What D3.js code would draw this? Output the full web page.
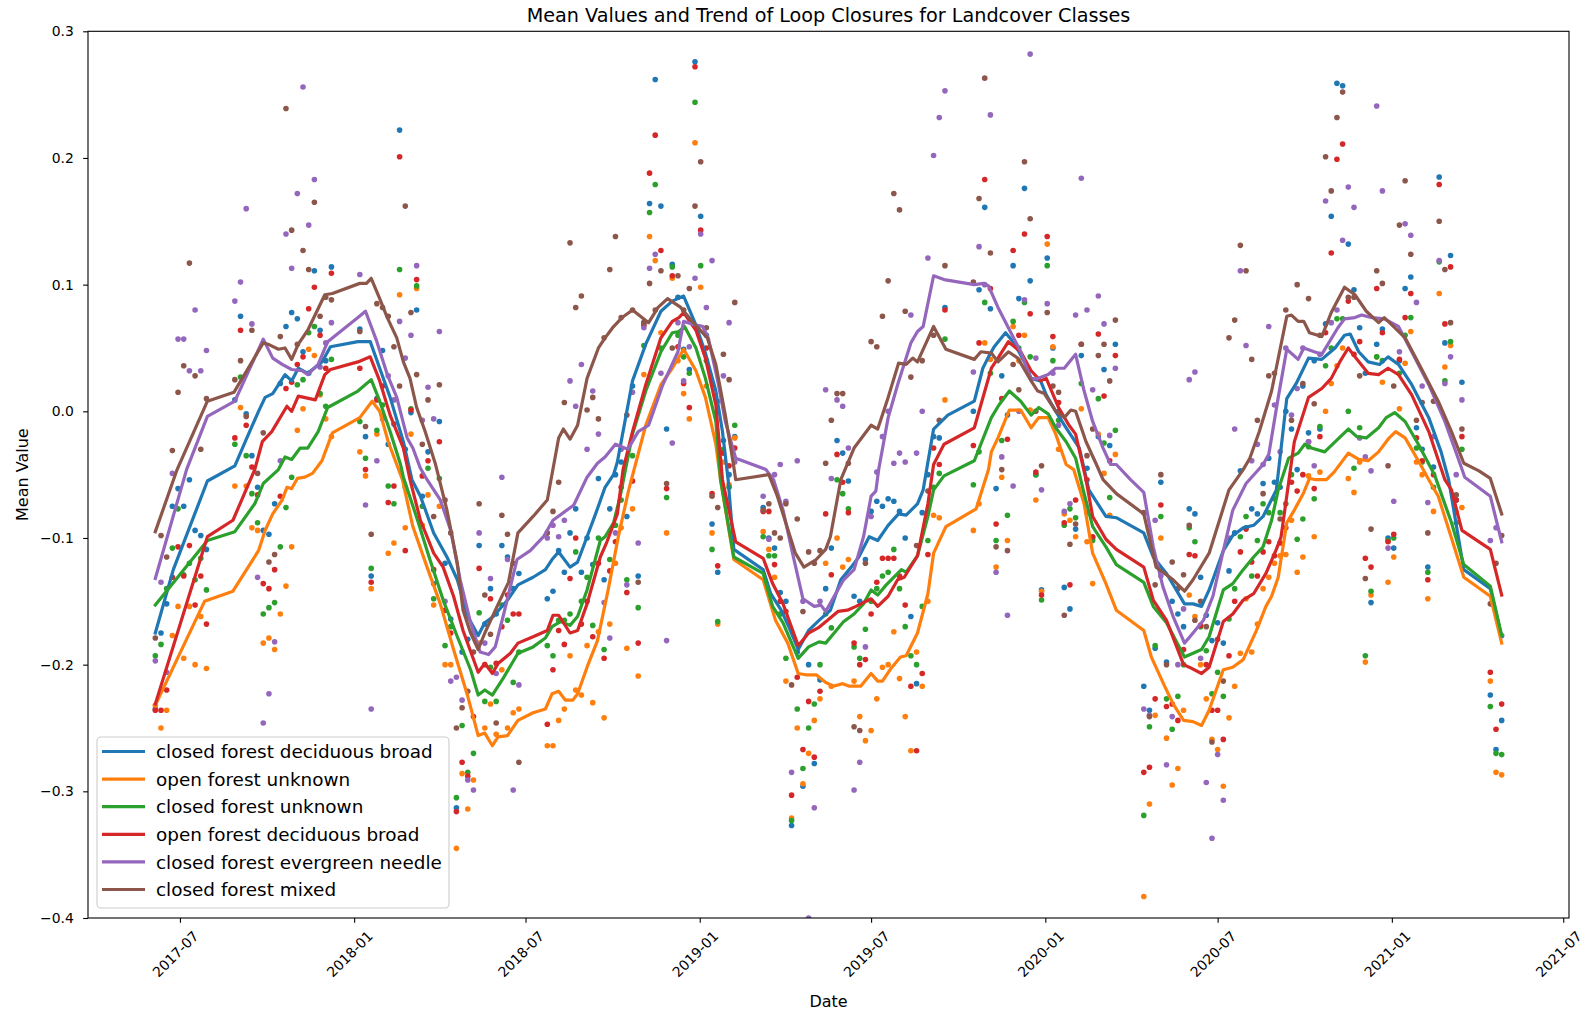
<!DOCTYPE html>
<html>
<head>
<meta charset="utf-8">
<title>Mean Values and Trend of Loop Closures for Landcover Classes</title>
<script src="https://cdn.jsdelivr.net/npm/d3@7/dist/d3.min.js"></script>
<style>
  html, body { margin: 0; padding: 0; background: #fff; }
  svg { display: block; font-family: "DejaVu Sans", sans-serif; }
</style>
</head>
<body>
<svg id="chart" width="1585" height="1011"></svg>
<script>
// ---------------- data ----------------
// Acquisition days are counted from the first pass of the 6-day repeat cycle.
const firstAcquisition = "2017-06-05";

const obsDays = [
  0, 6, 12, 18, 24, 30, 36, 42, 48, 54,
  84, 90, 96, 102, 108, 114, 120, 126, 132, 138, 144, 150, 156, 162, 168, 174, 180, 186,
  216, 222, 228, 234, 240, 246, 252, 258, 264, 270, 276, 282, 288, 294, 300, 306, 312, 318, 324, 330, 336, 342, 348, 354, 360, 366, 372, 378, 384,
  414, 420, 426, 432, 438, 444, 450, 456, 462, 468, 474, 480, 486, 492, 498, 504, 510, 516, 522, 528, 534, 540, 546, 552, 558, 564, 570, 576, 582, 588, 594, 600, 606, 612,
  642, 648, 654, 660, 666, 672, 678, 684, 690, 696, 702, 708, 714, 720, 726, 732, 738, 744, 750, 756, 762, 768, 774, 780, 786, 792, 798, 804, 810, 816, 822, 828, 834,
  864, 870, 876, 882, 888, 894, 900, 906, 912, 918, 924, 930, 936, 942, 948, 954, 960, 966, 972, 978, 984, 990, 996, 1002, 1008, 1014,
  1044, 1050, 1056, 1062, 1068, 1074, 1080, 1086, 1092, 1098, 1104, 1110, 1116, 1122, 1128, 1134, 1140, 1146, 1152, 1158, 1164, 1170, 1176, 1182, 1188, 1194, 1200, 1206, 1212, 1218, 1224, 1230, 1236, 1242, 1248, 1254, 1260, 1266, 1272, 1278, 1284, 1290, 1296, 1302, 1308, 1314, 1320, 1326, 1332, 1338, 1344, 1350, 1356, 1362, 1368, 1374, 1380,
  1410, 1416, 1422
];

// mean loop-closure value per acquisition, one array per landcover class
const closedDecidBroad = [
  -0.235,-0.175,-0.152,-0.075,-0.061,-0.075,-0.054,-0.094,-0.098,-0.109,
  0.009,0.075,-0.002,-0.035,-0.060,-0.094,-0.097,-0.073,0.022,0.067,0.078,0.073,0.047,0.030,0.111,0.064,0.040,0.114,
  0.065,-0.020,-0.130,0.010,0.048,-0.026,-0.010,0.222,-0.030,-0.001,0.080,-0.067,-0.032,-0.136,-0.008,-0.120,-0.164,-0.313,-0.190,-0.180,-0.175,-0.106,-0.168,-0.140,-0.160,-0.106,-0.115,-0.140,-0.128,
  -0.148,-0.142,-0.110,-0.127,-0.096,-0.077,-0.127,-0.100,-0.121,-0.053,-0.133,-0.077,-0.050,-0.040,-0.083,0.020,-0.130,0.070,0.164,0.262,0.162,-0.014,0.116,0.090,0.049,0.033,0.276,0.154,0.060,-0.089,-0.127,-0.023,-0.050,-0.020,
  -0.076,-0.100,-0.108,-0.143,-0.150,-0.327,-0.190,-0.296,-0.200,-0.278,-0.212,-0.140,-0.108,-0.023,-0.033,-0.055,-0.146,-0.150,-0.117,-0.079,-0.071,-0.075,-0.069,-0.071,-0.079,-0.100,-0.162,-0.215,-0.080,-0.050,-0.020,-0.021,0.082,
  0.000,0.096,0.161,0.081,-0.061,0.028,-0.003,0.115,0.089,0.176,0.103,-0.050,-0.141,0.121,0.050,0.000,-0.139,-0.156,-0.093,0.044,-0.045,-0.100,-0.020,0.033,-0.027,0.053,
  -0.217,-0.236,-0.187,-0.056,-0.198,-0.150,-0.160,-0.170,-0.077,-0.081,-0.131,-0.161,-0.181,-0.167,-0.183,-0.126,-0.096,-0.047,-0.092,-0.077,
  -0.081,-0.057,-0.037,-0.056,-0.060,0.000,-0.014,-0.046,0.020,-0.017,0.040,-0.014,0.069,0.154,0.259,0.257,0.132,0.096,0.066,0.030,
  -0.151,0.053,0.065,-0.100,-0.108,0.040,0.097,0.106,-0.013,-0.030,-0.123,-0.044,0.185,0.054,0.123,-0.070,0.023,
  -0.224,-0.267,-0.244
];
const openUnknown = [
  -0.232,-0.250,-0.236,-0.177,-0.154,-0.195,-0.154,-0.200,-0.162,-0.203,
  -0.059,0.003,-0.059,-0.092,-0.094,-0.183,-0.179,-0.188,-0.160,-0.138,-0.107,-0.015,0.002,0.049,0.044,0.013,-0.006,-0.020,
  -0.032,-0.051,-0.140,-0.018,-0.003,-0.112,-0.104,0.092,-0.092,-0.018,0.097,-0.090,-0.066,-0.153,-0.075,-0.200,-0.200,-0.345,-0.286,-0.314,-0.291,-0.183,-0.250,-0.231,-0.255,-0.204,-0.250,-0.238,-0.235,
  -0.264,-0.264,-0.244,-0.235,-0.193,-0.220,-0.224,-0.185,-0.230,-0.174,-0.242,-0.168,-0.120,-0.092,-0.187,-0.077,-0.209,0.029,0.138,0.119,0.062,-0.096,0.105,0.040,0.014,-0.006,0.212,0.098,0.020,-0.096,-0.168,-0.040,-0.058,-0.021,
  -0.095,-0.109,-0.131,-0.160,-0.213,-0.321,-0.250,-0.294,-0.270,-0.244,-0.227,-0.120,-0.217,-0.100,-0.123,-0.117,-0.213,-0.241,-0.260,-0.252,-0.227,-0.202,-0.200,-0.174,-0.211,-0.241,-0.268,-0.190,-0.217,-0.150,-0.082,-0.084,0.009,
  -0.094,-0.073,0.054,0.041,-0.123,-0.052,-0.102,0.067,0.040,0.060,0.001,-0.070,-0.142,0.132,0.051,-0.030,-0.081,-0.086,-0.099,0.002,-0.103,-0.136,-0.018,-0.049,-0.082,-0.034,
  -0.383,-0.310,-0.240,-0.100,-0.258,-0.295,-0.282,-0.236,-0.145,-0.162,-0.200,-0.227,-0.259,-0.267,-0.296,-0.242,-0.217,-0.191,-0.148,-0.190,
  -0.168,-0.140,-0.131,-0.120,-0.114,-0.113,-0.086,-0.127,-0.115,-0.051,-0.099,-0.048,0.000,0.022,0.036,0.050,-0.053,-0.064,-0.040,-0.198,
  -0.145,0.043,0.023,-0.135,-0.115,0.002,0.038,0.063,-0.040,-0.050,-0.148,-0.079,0.093,0.035,0.052,-0.080,-0.076,
  -0.213,-0.285,-0.287
];
const closedUnknown = [
  -0.193,-0.184,-0.140,-0.108,-0.077,-0.129,-0.120,-0.133,-0.116,-0.141,
  -0.026,0.027,-0.035,-0.065,-0.088,-0.160,-0.155,-0.151,-0.107,-0.076,-0.052,0.021,0.025,0.062,0.067,0.014,0.004,0.041,
  -0.008,-0.037,-0.124,-0.015,0.005,-0.059,-0.073,0.112,-0.060,0.002,0.099,-0.075,-0.045,-0.148,-0.053,-0.185,-0.170,-0.305,-0.248,-0.285,-0.270,-0.159,-0.229,-0.202,-0.229,-0.153,-0.165,-0.214,-0.190,
  -0.185,-0.193,-0.165,-0.165,-0.160,-0.111,-0.150,-0.131,-0.169,-0.100,-0.188,-0.117,-0.090,-0.070,-0.133,-0.035,-0.155,0.052,0.157,0.179,0.050,-0.068,0.114,0.060,0.043,0.030,0.244,0.115,0.040,-0.109,-0.166,-0.030,-0.060,-0.011,
  -0.099,-0.114,-0.114,-0.160,-0.195,-0.323,-0.235,-0.282,-0.250,-0.231,-0.200,-0.160,-0.171,-0.054,-0.065,-0.077,-0.186,-0.195,-0.172,-0.150,-0.140,-0.130,-0.127,-0.109,-0.140,-0.170,-0.193,-0.200,-0.154,-0.102,-0.060,-0.049,0.057,
  -0.058,-0.032,0.086,0.030,-0.102,-0.023,-0.082,0.071,0.050,0.086,0.043,-0.050,-0.149,0.115,0.040,-0.007,-0.090,-0.077,-0.084,0.022,-0.080,-0.102,0.010,-0.025,-0.068,-0.015,
  -0.319,-0.249,-0.185,-0.083,-0.227,-0.251,-0.225,-0.200,-0.092,-0.103,-0.170,-0.189,-0.223,-0.206,-0.225,-0.164,-0.140,-0.099,-0.083,-0.130,
  -0.102,-0.073,-0.080,-0.069,-0.080,-0.073,-0.050,-0.101,-0.085,-0.028,-0.069,-0.012,0.036,0.050,0.073,0.073,0.000,-0.045,-0.013,-0.193,
  -0.142,0.043,0.040,-0.102,-0.100,0.030,0.060,0.074,-0.029,-0.040,-0.127,-0.060,0.118,0.024,0.055,-0.088,-0.030,
  -0.233,-0.270,-0.271
];
const openDecidBroad = [
  -0.236,-0.236,-0.220,-0.131,-0.107,-0.130,-0.106,-0.153,-0.130,-0.168,
  -0.021,0.064,-0.011,-0.044,-0.066,-0.136,-0.140,-0.125,-0.067,0.018,0.023,0.037,0.043,0.081,0.098,0.060,0.034,0.109,
  0.034,-0.046,-0.135,0.009,0.020,-0.072,-0.059,0.201,-0.110,0.001,0.104,-0.051,-0.039,-0.125,-0.024,-0.157,-0.175,-0.316,-0.277,-0.288,-0.241,-0.124,-0.200,-0.148,-0.199,-0.170,-0.145,-0.160,-0.160,
  -0.247,-0.204,-0.173,-0.184,-0.132,-0.100,-0.168,-0.150,-0.178,-0.120,-0.195,-0.126,-0.103,-0.060,-0.143,-0.055,-0.183,0.068,0.188,0.218,0.127,-0.061,0.107,0.051,0.022,0.003,0.272,0.143,0.050,-0.065,-0.122,-0.033,-0.043,-0.029,
  -0.079,-0.079,-0.121,-0.150,-0.158,-0.303,-0.210,-0.267,-0.229,-0.273,-0.221,-0.081,-0.129,-0.034,-0.056,-0.080,-0.183,-0.200,-0.196,-0.160,-0.135,-0.116,-0.116,-0.116,-0.130,-0.153,-0.217,-0.268,-0.207,-0.113,-0.029,-0.042,0.080,
  -0.027,0.054,0.183,0.097,-0.089,0.010,-0.022,0.127,0.060,0.140,0.077,-0.048,-0.145,0.138,0.059,0.007,-0.088,-0.137,-0.070,0.053,-0.054,-0.099,0.061,0.012,-0.039,0.044,
  -0.285,-0.281,-0.227,-0.074,-0.233,-0.231,-0.244,-0.188,-0.113,-0.114,-0.169,-0.200,-0.236,-0.236,-0.259,-0.193,-0.150,-0.111,-0.093,-0.119,
  -0.130,-0.111,-0.103,-0.114,-0.104,-0.092,-0.056,-0.063,-0.050,-0.024,-0.061,-0.020,0.062,0.125,0.199,0.211,0.087,0.045,0.055,-0.116,
  -0.123,0.097,0.062,-0.103,-0.097,0.041,0.074,0.093,-0.021,-0.039,-0.133,-0.050,0.179,0.069,0.114,-0.070,-0.020,
  -0.206,-0.251,-0.231
];
const closedEvergreenNeedle = [
  -0.197,-0.135,-0.206,-0.049,0.057,0.057,0.032,0.080,0.032,0.048,
  0.087,0.102,0.160,0.069,-0.131,-0.246,-0.223,-0.182,-0.039,0.140,0.113,0.172,0.256,0.147,0.183,0.035,0.054,0.070,
  0.108,-0.074,-0.235,-0.039,-0.006,0.028,0.009,0.071,0.042,0.060,0.115,-0.007,0.019,-0.006,0.063,-0.150,-0.213,-0.210,-0.228,-0.291,-0.299,-0.096,-0.183,-0.132,-0.207,-0.052,-0.117,-0.299,-0.216,
  -0.100,-0.090,-0.099,-0.086,0.024,0.004,0.037,-0.030,0.016,-0.018,-0.151,-0.179,-0.096,-0.030,-0.137,0.015,-0.104,0.066,0.113,0.124,0.030,-0.181,-0.025,0.070,0.024,0.051,0.105,0.140,0.082,0.119,0.008,0.028,0.070,-0.040,
  -0.067,-0.101,-0.050,-0.042,-0.071,-0.285,-0.039,-0.150,-0.400,-0.313,-0.150,0.017,-0.053,0.009,0.004,-0.029,-0.299,-0.277,-0.186,-0.083,-0.048,-0.020,0.000,-0.041,-0.033,-0.040,0.076,-0.033,0.000,0.121,0.202,0.232,0.253,
  0.031,0.130,0.100,0.234,-0.127,-0.036,-0.161,-0.059,0.000,0.088,0.282,0.042,-0.062,0.085,0.030,-0.011,-0.079,-0.073,0.076,0.184,0.080,0.017,0.091,0.069,-0.019,0.034,
  -0.235,-0.240,-0.086,-0.130,-0.279,-0.241,-0.200,-0.156,0.025,0.031,-0.195,-0.293,-0.337,-0.271,-0.307,-0.100,-0.014,0.111,0.052,-0.039,
  -0.026,-0.042,0.067,0.005,-0.032,0.050,-0.003,0.018,0.050,-0.024,-0.043,0.045,0.166,0.070,0.080,0.135,0.177,0.161,-0.021,-0.036,
  -0.047,0.241,0.174,-0.108,-0.071,0.047,0.148,0.139,0.086,0.020,-0.072,-0.020,0.119,0.022,0.043,-0.050,0.009,
  -0.102,-0.092,-0.177
];
const closedMixed = [
  -0.179,-0.098,-0.115,-0.031,0.015,0.036,0.117,0.028,-0.030,0.010,
  0.025,0.040,-0.004,0.064,-0.049,-0.017,-0.119,-0.113,0.059,0.239,0.143,0.053,0.127,0.112,0.165,0.075,0.090,0.088,
  0.063,-0.012,-0.097,0.085,0.082,0.075,0.051,0.020,0.162,0.078,0.029,-0.026,0.009,-0.083,0.021,-0.070,-0.096,-0.250,-0.234,-0.221,-0.190,-0.073,-0.145,-0.176,-0.246,-0.082,-0.097,-0.120,-0.277,
  -0.096,-0.079,-0.056,0.007,0.133,0.082,0.091,0.001,0.011,-0.006,0.058,0.112,0.138,0.074,-0.003,0.080,-0.135,0.070,0.101,0.080,0.111,-0.057,0.050,0.107,0.080,0.097,0.162,0.197,0.066,-0.067,-0.076,0.045,0.025,0.086,
  -0.078,-0.073,-0.096,-0.100,-0.073,-0.216,-0.085,-0.158,-0.111,-0.120,-0.110,-0.041,-0.007,0.014,0.014,-0.041,-0.249,-0.252,-0.120,0.055,0.051,0.075,0.103,0.172,0.159,0.079,0.027,-0.106,0.040,-0.063,0.060,-0.007,0.115,
  0.102,0.168,0.263,0.125,-0.107,-0.046,-0.110,0.037,0.017,0.197,0.152,0.000,-0.043,0.078,0.020,0.015,-0.161,-0.105,-0.089,0.053,-0.035,-0.014,0.044,0.053,0.024,0.072,
  -0.080,-0.241,-0.137,-0.050,-0.200,-0.119,-0.140,-0.129,-0.090,-0.165,-0.150,-0.170,-0.261,-0.180,-0.213,0.058,0.072,0.131,0.111,0.041,
  -0.007,-0.065,0.028,0.030,-0.085,0.080,-0.007,0.100,0.022,0.089,0.006,0.060,0.201,0.174,0.232,0.252,0.090,0.090,0.028,-0.132,
  -0.093,0.111,0.101,-0.043,0.020,0.147,0.182,0.124,-0.007,0.007,-0.096,0.008,0.150,0.112,0.070,-0.066,-0.014,
  -0.152,-0.120,-0.098
];

// smoothed trend per class: [acquisition day, value]
const trendClosedDecidBroad = [
  [0,-0.175],[19,-0.125],[55,-0.055],[84,-0.043],[95,-0.024],[109,0.000],[116,0.011],[124,0.014],[137,0.029],[144,0.024],[151,0.034],[161,0.030],[176,0.039],[185,0.051],[214,0.055],[227,0.055],[237,0.034],[248,0.011],[262,-0.024],[271,-0.054],[280,-0.067],[294,-0.096],[308,-0.115],[319,-0.133],[330,-0.162],[341,-0.177],[348,-0.167],[357,-0.162],[372,-0.149],[383,-0.137],[399,-0.131],[412,-0.125],[419,-0.117],[426,-0.111],[438,-0.123],[446,-0.119],[456,-0.099],[465,-0.081],[475,-0.060],[484,-0.050],[488,-0.040],[504,0.024],[518,0.053],[534,0.079],[546,0.087],[558,0.091],[571,0.068],[581,0.046],[592,0.016],[599,-0.016],[605,-0.054],[611,-0.109],[642,-0.125],[650,-0.144],[661,-0.157],[669,-0.170],[679,-0.188],[690,-0.173],[701,-0.165],[713,-0.157],[724,-0.133],[735,-0.123],[743,-0.115],[754,-0.099],[763,-0.102],[774,-0.090],[785,-0.081],[793,-0.082],[805,-0.073],[811,-0.062],[822,-0.014],[837,-0.003],[865,0.008],[874,0.034],[880,0.043],[886,0.051],[898,0.062],[907,0.054],[918,0.039],[925,0.026],[935,0.024],[941,0.013],[951,0.000],[962,-0.013],[976,-0.029],[986,-0.062],[1004,-0.083],[1015,-0.084],[1044,-0.096],[1054,-0.115],[1068,-0.128],[1087,-0.152],[1096,-0.152],[1105,-0.154],[1113,-0.141],[1128,-0.110],[1138,-0.098],[1149,-0.092],[1160,-0.090],[1170,-0.083],[1184,-0.062],[1195,0.010],[1205,0.022],[1218,0.042],[1232,0.041],[1246,0.050],[1256,0.060],[1262,0.061],[1271,0.047],[1281,0.039],[1293,0.037],[1302,0.043],[1313,0.037],[1327,0.021],[1345,-0.005],[1358,-0.032],[1366,-0.054],[1382,-0.125],[1410,-0.140],[1422,-0.178]
];
const trendOpenUnknown = [
  [0,-0.232],[52,-0.150],[82,-0.142],[109,-0.110],[116,-0.094],[124,-0.081],[134,-0.070],[139,-0.060],[144,-0.061],[150,-0.053],[158,-0.052],[166,-0.049],[176,-0.039],[187,-0.017],[216,-0.005],[229,0.008],[237,0.000],[246,-0.024],[255,-0.042],[261,-0.054],[272,-0.091],[287,-0.123],[301,-0.152],[315,-0.188],[330,-0.225],[341,-0.256],[348,-0.254],[356,-0.264],[362,-0.257],[372,-0.256],[383,-0.244],[399,-0.238],[412,-0.235],[419,-0.223],[426,-0.221],[433,-0.228],[441,-0.228],[446,-0.223],[456,-0.202],[467,-0.181],[478,-0.142],[489,-0.099],[500,-0.062],[518,-0.011],[534,0.021],[546,0.034],[558,0.049],[571,0.032],[581,0.011],[592,-0.026],[597,-0.054],[611,-0.117],[642,-0.133],[655,-0.165],[668,-0.183],[679,-0.207],[687,-0.208],[698,-0.208],[708,-0.214],[716,-0.217],[726,-0.215],[733,-0.217],[745,-0.217],[756,-0.207],[763,-0.213],[768,-0.213],[777,-0.203],[787,-0.194],[793,-0.193],[805,-0.175],[816,-0.144],[822,-0.112],[835,-0.091],[867,-0.077],[880,-0.046],[883,-0.032],[890,-0.021],[902,0.001],[914,0.001],[925,-0.013],[933,-0.005],[943,-0.005],[951,-0.018],[962,-0.042],[970,-0.046],[981,-0.073],[990,-0.112],[1004,-0.136],[1015,-0.157],[1044,-0.173],[1052,-0.194],[1066,-0.217],[1075,-0.231],[1086,-0.244],[1096,-0.245],[1105,-0.248],[1113,-0.236],[1128,-0.204],[1138,-0.202],[1149,-0.196],[1163,-0.173],[1173,-0.154],[1179,-0.146],[1186,-0.131],[1195,-0.088],[1203,-0.078],[1213,-0.064],[1219,-0.053],[1226,-0.054],[1237,-0.054],[1245,-0.048],[1260,-0.033],[1271,-0.038],[1281,-0.039],[1292,-0.032],[1302,-0.022],[1310,-0.016],[1320,-0.021],[1334,-0.039],[1345,-0.054],[1355,-0.067],[1382,-0.131],[1410,-0.146],[1422,-0.183]
];
const trendClosedUnknown = [
  [0,-0.153],[55,-0.102],[84,-0.095],[105,-0.073],[114,-0.057],[130,-0.046],[137,-0.036],[144,-0.038],[153,-0.029],[161,-0.029],[172,-0.016],[182,0.003],[187,0.005],[214,0.016],[228,0.025],[237,0.008],[248,-0.016],[259,-0.042],[262,-0.052],[277,-0.086],[290,-0.117],[304,-0.149],[319,-0.178],[333,-0.204],[341,-0.224],[348,-0.220],[356,-0.224],[368,-0.210],[383,-0.191],[399,-0.186],[412,-0.179],[419,-0.170],[428,-0.166],[438,-0.169],[446,-0.162],[456,-0.141],[470,-0.102],[475,-0.099],[484,-0.088],[491,-0.067],[504,-0.018],[518,0.016],[534,0.047],[546,0.062],[553,0.063],[559,0.067],[571,0.050],[581,0.026],[592,-0.008],[597,-0.054],[611,-0.115],[642,-0.128],[652,-0.154],[663,-0.167],[679,-0.195],[690,-0.186],[701,-0.182],[708,-0.183],[717,-0.175],[727,-0.166],[738,-0.160],[748,-0.152],[756,-0.141],[763,-0.145],[772,-0.137],[788,-0.125],[793,-0.127],[805,-0.114],[816,-0.083],[822,-0.062],[833,-0.051],[865,-0.039],[883,-0.005],[891,0.005],[902,0.016],[914,0.008],[925,-0.003],[933,0.003],[943,-0.002],[951,-0.013],[962,-0.024],[972,-0.037],[980,-0.062],[990,-0.091],[1004,-0.107],[1015,-0.121],[1044,-0.135],[1054,-0.154],[1068,-0.167],[1087,-0.194],[1096,-0.191],[1105,-0.188],[1113,-0.178],[1128,-0.141],[1138,-0.136],[1149,-0.125],[1160,-0.115],[1170,-0.107],[1179,-0.086],[1186,-0.062],[1197,-0.037],[1207,-0.033],[1214,-0.026],[1221,-0.029],[1235,-0.032],[1249,-0.022],[1260,-0.014],[1269,-0.020],[1279,-0.021],[1292,-0.013],[1300,-0.005],[1309,-0.001],[1320,-0.008],[1334,-0.026],[1351,-0.050],[1369,-0.088],[1382,-0.121],[1410,-0.138],[1422,-0.177]
];
const trendOpenDecidBroad = [
  [0,-0.231],[55,-0.099],[82,-0.086],[105,-0.046],[113,-0.024],[123,-0.016],[139,0.004],[144,0.000],[151,0.012],[169,0.009],[179,0.029],[185,0.033],[214,0.039],[227,0.043],[237,0.024],[248,-0.003],[262,-0.029],[269,-0.054],[280,-0.086],[294,-0.112],[304,-0.123],[315,-0.146],[325,-0.173],[341,-0.206],[348,-0.199],[356,-0.207],[362,-0.199],[375,-0.191],[383,-0.183],[399,-0.178],[414,-0.173],[420,-0.161],[426,-0.161],[438,-0.175],[446,-0.173],[456,-0.152],[470,-0.115],[477,-0.103],[488,-0.081],[494,-0.046],[504,-0.016],[518,0.021],[534,0.058],[546,0.071],[553,0.074],[558,0.078],[571,0.064],[581,0.042],[592,0.005],[599,-0.054],[613,-0.103],[642,-0.116],[652,-0.136],[663,-0.152],[679,-0.185],[690,-0.175],[700,-0.171],[710,-0.165],[721,-0.158],[731,-0.157],[740,-0.154],[756,-0.148],[763,-0.154],[774,-0.146],[784,-0.133],[791,-0.131],[805,-0.114],[816,-0.073],[822,-0.042],[833,-0.026],[865,-0.013],[883,0.034],[890,0.042],[901,0.055],[914,0.047],[925,0.032],[935,0.024],[941,0.026],[954,0.003],[965,-0.011],[972,-0.018],[983,-0.054],[990,-0.083],[1004,-0.101],[1015,-0.109],[1044,-0.123],[1054,-0.149],[1068,-0.165],[1086,-0.200],[1092,-0.202],[1105,-0.207],[1113,-0.202],[1128,-0.166],[1138,-0.160],[1149,-0.149],[1160,-0.144],[1173,-0.128],[1184,-0.109],[1189,-0.099],[1203,-0.024],[1218,0.011],[1232,0.018],[1242,0.026],[1251,0.039],[1260,0.050],[1267,0.043],[1281,0.030],[1292,0.029],[1302,0.034],[1313,0.029],[1327,0.013],[1345,-0.016],[1362,-0.054],[1369,-0.062],[1380,-0.094],[1410,-0.109],[1422,-0.145]
];
const trendClosedEvergreenNeedle = [
  [0,-0.132],[33,-0.046],[55,-0.004],[84,0.008],[114,0.057],[124,0.042],[134,0.037],[144,0.033],[155,0.032],[161,0.029],[172,0.037],[182,0.055],[214,0.074],[222,0.079],[234,0.055],[245,0.029],[255,0.011],[266,-0.021],[272,-0.029],[280,-0.045],[287,-0.054],[301,-0.070],[312,-0.094],[322,-0.133],[333,-0.167],[343,-0.190],[352,-0.192],[359,-0.186],[368,-0.160],[382,-0.117],[396,-0.110],[410,-0.099],[420,-0.086],[442,-0.074],[456,-0.052],[467,-0.041],[475,-0.036],[486,-0.026],[499,-0.030],[510,-0.016],[521,-0.011],[536,0.021],[552,0.047],[558,0.071],[571,0.068],[578,0.067],[584,0.058],[594,0.024],[602,-0.008],[613,-0.037],[645,-0.046],[653,-0.054],[663,-0.078],[673,-0.112],[684,-0.148],[696,-0.154],[703,-0.153],[708,-0.158],[717,-0.146],[727,-0.133],[738,-0.125],[748,-0.099],[756,-0.067],[761,-0.063],[764,-0.046],[774,-0.005],[784,0.021],[798,0.054],[805,0.063],[811,0.067],[822,0.107],[833,0.104],[865,0.100],[875,0.101],[880,0.099],[890,0.082],[901,0.066],[914,0.047],[925,0.025],[932,0.026],[943,0.029],[951,0.034],[960,0.034],[972,0.045],[981,0.016],[990,-0.008],[1001,-0.029],[1009,-0.042],[1015,-0.042],[1030,-0.054],[1044,-0.064],[1054,-0.107],[1064,-0.138],[1075,-0.162],[1087,-0.183],[1096,-0.175],[1107,-0.165],[1117,-0.146],[1128,-0.110],[1138,-0.078],[1152,-0.057],[1170,-0.042],[1176,-0.034],[1186,0.011],[1195,0.049],[1207,0.041],[1213,0.050],[1224,0.047],[1232,0.045],[1249,0.066],[1256,0.073],[1267,0.074],[1274,0.076],[1285,0.074],[1298,0.073],[1313,0.067],[1327,0.047],[1345,0.021],[1362,-0.008],[1376,-0.037],[1383,-0.052],[1410,-0.067],[1422,-0.103]
];
const trendClosedMixed = [
  [0,-0.095],[23,-0.046],[55,0.008],[83,0.015],[114,0.054],[119,0.053],[130,0.049],[137,0.050],[144,0.041],[151,0.053],[161,0.064],[179,0.092],[187,0.093],[216,0.101],[223,0.101],[228,0.105],[237,0.089],[245,0.074],[255,0.058],[262,0.039],[269,0.026],[276,0.003],[285,-0.016],[296,-0.042],[308,-0.078],[319,-0.120],[325,-0.157],[333,-0.175],[341,-0.188],[348,-0.175],[361,-0.154],[373,-0.135],[383,-0.096],[399,-0.083],[414,-0.070],[426,-0.021],[431,-0.014],[438,-0.022],[446,-0.011],[456,0.026],[468,0.050],[475,0.058],[483,0.066],[493,0.074],[504,0.080],[521,0.070],[531,0.082],[541,0.089],[555,0.082],[567,0.071],[583,0.058],[592,0.037],[602,-0.003],[610,-0.039],[613,-0.054],[648,-0.050],[657,-0.067],[676,-0.112],[685,-0.123],[698,-0.117],[708,-0.109],[713,-0.099],[724,-0.054],[738,-0.029],[756,-0.011],[763,-0.014],[774,0.011],[785,0.038],[793,0.037],[800,0.042],[805,0.039],[822,0.067],[835,0.049],[865,0.041],[872,0.047],[883,0.046],[890,0.039],[901,0.047],[911,0.042],[925,0.024],[932,0.016],[939,0.014],[951,0.000],[960,-0.005],[967,0.001],[972,0.000],[983,-0.024],[994,-0.042],[1001,-0.054],[1015,-0.065],[1044,-0.081],[1057,-0.123],[1075,-0.133],[1087,-0.142],[1096,-0.133],[1113,-0.112],[1134,-0.062],[1149,-0.046],[1156,-0.037],[1166,-0.016],[1179,0.016],[1195,0.075],[1200,0.076],[1207,0.071],[1213,0.071],[1219,0.062],[1232,0.059],[1242,0.078],[1256,0.098],[1267,0.092],[1279,0.079],[1292,0.070],[1298,0.074],[1309,0.066],[1320,0.058],[1337,0.034],[1355,0.008],[1369,-0.016],[1382,-0.041],[1398,-0.047],[1410,-0.053],[1422,-0.081]
];

const classNames = [
  "closed forest deciduous broad",
  "open forest unknown",
  "closed forest unknown",
  "open forest deciduous broad",
  "closed forest evergreen needle",
  "closed forest mixed"
];
const classColors = ["#1f77b4", "#ff7f0e", "#2ca02c", "#d62728", "#9467bd", "#8c564b"];

const xTickMonths = ["2017-07", "2018-01", "2018-07", "2019-01", "2019-07", "2020-01", "2020-07", "2021-01", "2021-07"];
const yTicks = [-0.4, -0.3, -0.2, -0.1, 0.0, 0.1, 0.2, 0.3];
const yLimits = [-0.4, 0.3];

// ---------------- chart ----------------
const svg = d3.select("#chart");
const plot = { left: 88, right: 1569, top: 31.3, bottom: 918 };
const FONT = "DejaVu Sans";

const t0 = d3.utcParse("%Y-%m-%d")(firstAcquisition);
const dayToDate = d => new Date(t0.getTime() + d * 864e5);

const series = [
  { values: closedDecidBroad, trend: trendClosedDecidBroad },
  { values: openUnknown, trend: trendOpenUnknown },
  { values: closedUnknown, trend: trendClosedUnknown },
  { values: openDecidBroad, trend: trendOpenDecidBroad },
  { values: closedEvergreenNeedle, trend: trendClosedEvergreenNeedle },
  { values: closedMixed, trend: trendClosedMixed }
].map((s, i) => ({ ...s, name: classNames[i], color: classColors[i] }));

// x range: data extent with a 5% margin on both sides
const allDays = obsDays.concat(...series.map(s => s.trend.map(p => p[0])));
const [dMin, dMax] = d3.extent(allDays);
const pad = (dMax - dMin) * 0.05;
const x = d3.scaleUtc()
  .domain([dayToDate(dMin - pad), dayToDate(dMax + pad)])
  .range([plot.left, plot.right]);
const y = d3.scaleLinear().domain(yLimits).range([plot.bottom, plot.top]);

svg.append("defs").append("clipPath").attr("id", "plot-clip")
  .append("rect")
  .attr("x", plot.left).attr("y", plot.top)
  .attr("width", plot.right - plot.left).attr("height", plot.bottom - plot.top);

const body = svg.append("g").attr("clip-path", "url(#plot-clip)");

// scatter of per-acquisition means (drawn beneath all trend lines)
series.forEach(s => {
  body.append("g").selectAll("circle")
    .data(obsDays.map((d, i) => [d, s.values[i]]).filter(p => p[1] != null))
    .join("circle")
    .attr("cx", p => x(dayToDate(p[0])))
    .attr("cy", p => y(p[1]))
    .attr("r", 2.8)
    .attr("fill", s.color);
});

// trend lines
const line = d3.line()
  .x(p => x(dayToDate(p[0])))
  .y(p => y(p[1]));
series.forEach(s => {
  body.append("path")
    .datum(s.trend)
    .attr("d", line)
    .attr("fill", "none")
    .attr("stroke", s.color)
    .attr("stroke-width", 3.2)
    .attr("stroke-linejoin", "round")
    .attr("stroke-linecap", "square");
});

// axes
const tickLen = 4.86;
const parseMonth = d3.utcParse("%Y-%m");
const xAxis = d3.axisBottom(x)
  .tickValues(xTickMonths.map(parseMonth))
  .tickFormat(d3.utcFormat("%Y-%m"))
  .tickSize(tickLen).tickPadding(4.86);
const gx = svg.append("g")
  .attr("transform", `translate(0,${plot.bottom})`)
  .call(xAxis)
  .attr("font-family", FONT).attr("font-size", 13.9);
gx.select(".domain").remove();
gx.selectAll(".tick line").attr("stroke", "#000").attr("stroke-width", 1.1);
gx.selectAll(".tick text")
  .attr("y", null).attr("dy", null)
  .attr("fill", "#000")
  .attr("text-anchor", "middle")
  .attr("dominant-baseline", "central")
  .attr("transform", "translate(-5,36) rotate(-45)");

const yAxis = d3.axisLeft(y)
  .tickValues(yTicks)
  .tickFormat(d3.format(".1f"))
  .tickSize(tickLen).tickPadding(9.3);
const gy = svg.append("g")
  .attr("transform", `translate(${plot.left},0)`)
  .call(yAxis)
  .attr("font-family", FONT).attr("font-size", 13.9);
gy.select(".domain").remove();
gy.selectAll(".tick line").attr("stroke", "#000").attr("stroke-width", 1.1);
gy.selectAll(".tick text").attr("fill", "#000");

// frame
svg.append("rect")
  .attr("x", plot.left).attr("y", plot.top)
  .attr("width", plot.right - plot.left).attr("height", plot.bottom - plot.top)
  .attr("fill", "none").attr("stroke", "#000").attr("stroke-width", 1.1);

// titles
svg.append("text")
  .attr("x", (plot.left + plot.right) / 2).attr("y", 21.5)
  .attr("text-anchor", "middle")
  .attr("font-family", FONT).attr("font-size", 19.2)
  .text("Mean Values and Trend of Loop Closures for Landcover Classes");
svg.append("text")
  .attr("x", (plot.left + plot.right) / 2).attr("y", 1007)
  .attr("text-anchor", "middle")
  .attr("font-family", FONT).attr("font-size", 16)
  .text("Date");
svg.append("text")
  .attr("transform", `translate(28,${(plot.top + plot.bottom) / 2}) rotate(-90)`)
  .attr("text-anchor", "middle")
  .attr("font-family", FONT).attr("font-size", 16)
  .text("Mean Value");

// legend
const legend = svg.append("g");
legend.append("rect")
  .attr("x", 97).attr("y", 737).attr("width", 352).attr("height", 171)
  .attr("rx", 4)
  .attr("fill", "#fff").attr("fill-opacity", 0.8)
  .attr("stroke", "#cccccc").attr("stroke-width", 1.1);
const rows = legend.selectAll("g.row").data(series).join("g")
  .attr("class", "row")
  .attr("transform", (d, i) => `translate(0,${751.5 + i * 27.6})`);
rows.append("line")
  .attr("x1", 102).attr("x2", 145)
  .attr("stroke", d => d.color).attr("stroke-width", 3.2);
rows.append("text")
  .attr("x", 156).attr("dy", "0.36em")
  .attr("font-family", FONT).attr("font-size", 18.4)
  .attr("fill", "#000")
  .text(d => d.name);
</script>
</body>
</html>
